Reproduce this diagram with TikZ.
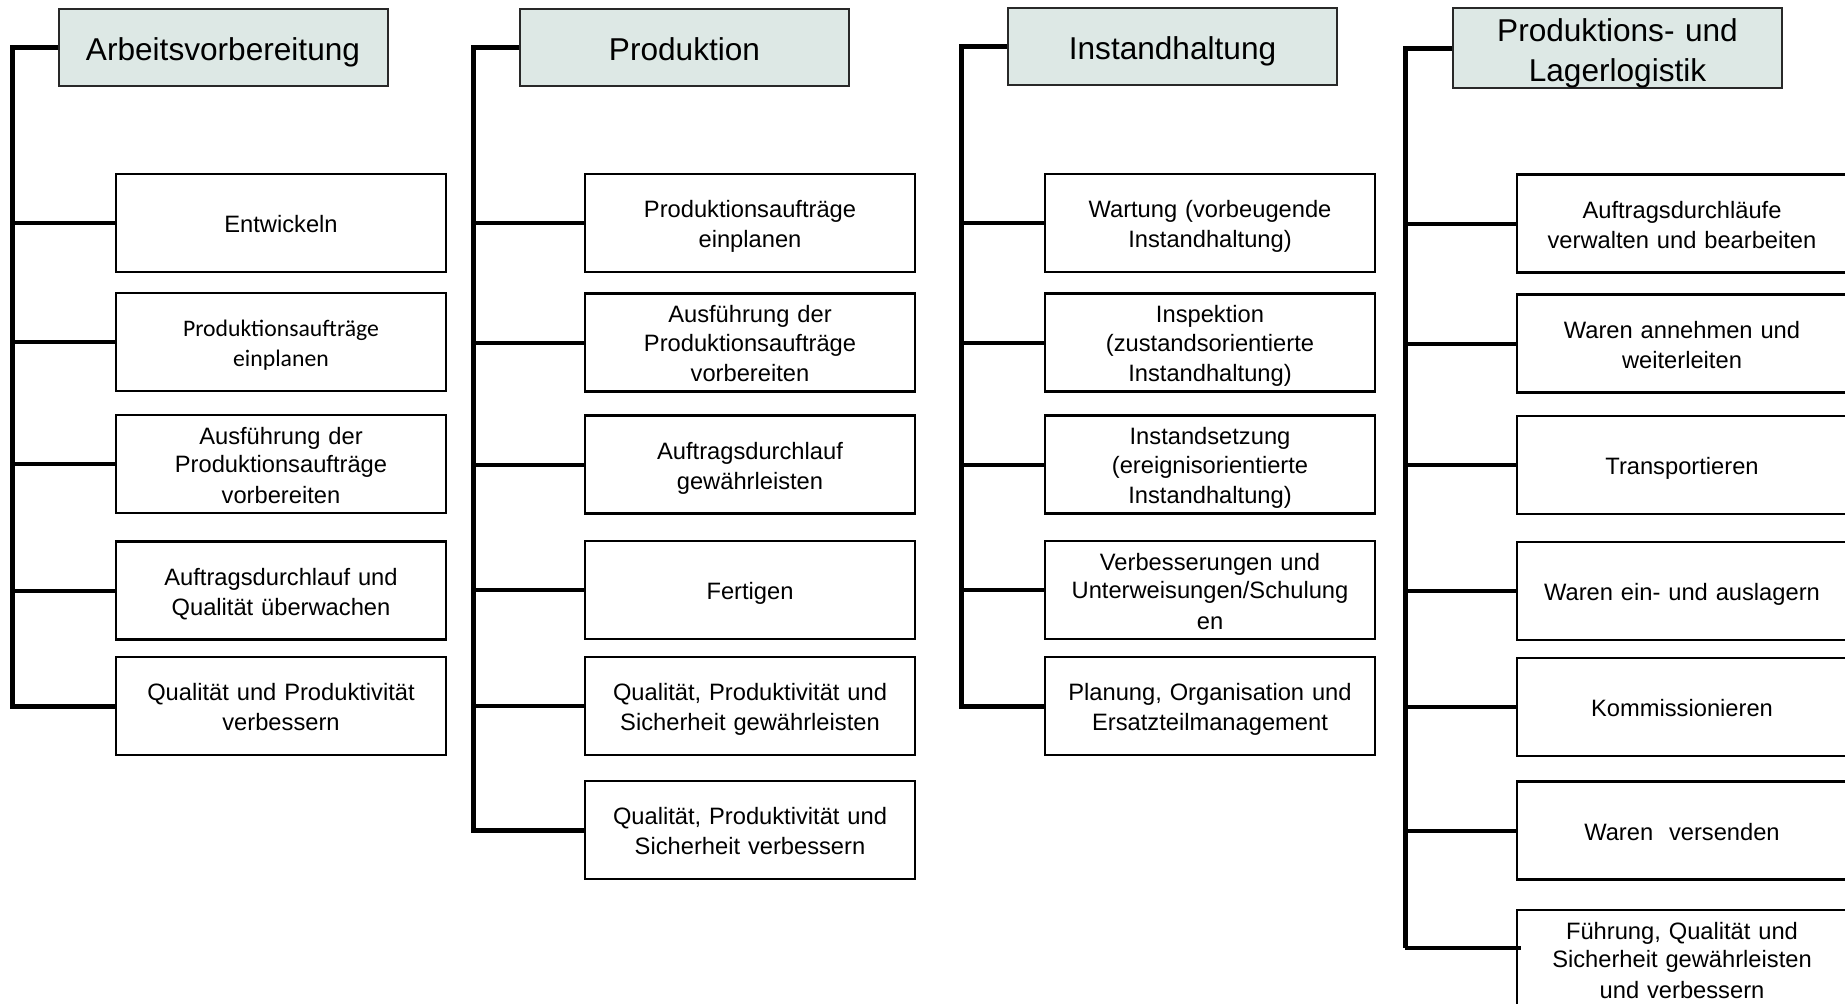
\documentclass[tikz,border=0pt]{standalone}
\usepackage{fontspec}
\setmainfont{Liberation Sans}
\newfontfamily\calibrifont{Carlito}
\usepackage{tikz}
\usetikzlibrary{
  calc,        % coordinate shifts
  positioning  % relative placement
}
\definecolor{headfill}{RGB}{221,232,229}
\definecolor{headline}{RGB}{40,40,40}
% struts: first line height / last line depth
\newcommand\taskstrut{\vrule width 0pt height 24.4pt depth 5pt}
\newcommand\headstrut{\vrule width 0pt height 33pt depth 6pt}
\newcommand\headstrutii{\vrule width 0pt height 27.3pt depth 6pt}
\tikzset{
  head box/.style={
    draw=headline,
    fill=headfill,
    line width=2pt,
    text width=329pt,
    minimum height=77pt,
    inner sep=0pt,
    align=center,
    font=\fontsize{31.6}{37.3}\selectfont,
    execute at begin node={\parindent=0pt\headstrut},
    execute at end node=\headstrut
  },
  task box/.style={
    draw=black,
    fill=white,
    line width=2.5pt,
    text width=330pt,
    minimum height=98pt,
    inner sep=0pt,
    align=center,
    font=\fontsize{23.7}{28.8}\selectfont,
    execute at begin node={\parindent=0pt\taskstrut},
    execute at end node=\taskstrut
  },
  spine/.style={
    draw=black,
    line width=5pt,
    line join=miter
  },
  branch/.style={
    draw=black,
    line width=4pt
  }
}

\begin{document}
\begin{tikzpicture}[x=1pt, y=-1pt]
    \useasboundingbox (0,0) rectangle (1845,1004);

    % 1. Arbeitsvorbereitung
    \node[head box] (AVh) at (223,47) {Arbeitsvorbereitung};
    \node[task box] (AV1) at (281,223) {Entwickeln};
    \node[task box] (AV2) at (281,342) {\calibrifont Produktionsaufträge\\einplanen};
    \node[task box] (AV3) at (281,464) {Ausführung der\\Produktionsaufträge\\vorbereiten};
    \node[task box] (AV4) at (281,590.5) {Auftragsdurchlauf und\\Qualität überwachen};
    \node[task box] (AV5) at (281,706) {Qualität und Produktivität\\verbessern};
    \coordinate (AVtop) at (12,47);
    \draw[spine] (AVh.west) -- (AVtop) |- (AV5.west);
    \foreach \i in {1,...,4}
      \draw[branch] (AVtop |- AV\i.west) -- (AV\i.west);

    % 2. Produktion
    \node[head box] (PRh) at (684.5,47) {Produktion};
    \node[task box] (PR1) at (750,223) {Produktionsaufträge\\einplanen};
    \node[task box] (PR2) at (750,342.5) {Ausführung der\\Produktionsaufträge\\vorbereiten};
    \node[task box] (PR3) at (750,464.5) {Auftragsdurchlauf\\gewährleisten};
    \node[task box] (PR4) at (750,590) {Fertigen};
    \node[task box] (PR5) at (750,706) {Qualität, Produktivität und\\Sicherheit gewährleisten};
    \node[task box] (PR6) at (750,830) {Qualität, Produktivität und\\Sicherheit verbessern};
    \coordinate (PRtop) at (473,47);
    \draw[spine] (PRh.west) -- (PRtop) |- (PR6.west);
    \foreach \i in {1,...,5}
      \draw[branch] (PRtop |- PR\i.west) -- (PR\i.west);

    % 3. Instandhaltung
    \node[head box] (IHh) at (1172.5,46) {Instandhaltung};
    \node[task box] (IH1) at (1210,223) {Wartung (vorbeugende\\Instandhaltung)};
    \node[task box] (IH2) at (1210,342.5) {Inspektion\\(zustandsorientierte\\Instandhaltung)};
    \node[task box] (IH3) at (1210,464.5) {Instandsetzung\\(ereignisorientierte\\Instandhaltung)};
    \node[task box] (IH4) at (1210,590) {Verbesserungen und\\Unterweisungen/Schulung\\en};
    \node[task box] (IH5) at (1210,706) {Planung, Organisation und\\Ersatzteilmanagement};
    \coordinate (IHtop) at (961,46);
    \draw[spine] (IHh.west) -- (IHtop) |- (IH5.west);
    \foreach \i in {1,...,4}
      \draw[branch] (IHtop |- IH\i.west) -- (IH\i.west);

    % 4. Produktions- und Lagerlogistik
    \node[head box, execute at begin node={\parindent=0pt\headstrutii}] (LGh) at (1617.5,48) {Produktions- und\\Lagerlogistik};
    \node[task box] (LG1) at (1682,223.5) {Auftragsdurchläufe\\verwalten und bearbeiten};
    \node[task box] (LG2) at (1682,343.5) {Waren annehmen und\\weiterleiten};
    \node[task box] (LG3) at (1682,465) {Transportieren};
    \node[task box] (LG4) at (1682,591) {Waren ein- und auslagern};
    \node[task box] (LG5) at (1682,707) {Kommissionieren};
    \node[task box] (LG6) at (1682,830.5) {Waren\ \ versenden};
    \node[task box] (LG7) at (1682,959) {Führung, Qualität und\\Sicherheit gewährleisten\\und verbessern};
    \coordinate (LGtop) at (1405,48);
    \coordinate (LGbot) at (1405,948);
    \coordinate (LG7in) at ($(LG7.west)+(5,-11)$);
    \draw[spine] (LGh.west) -- (LGtop) -- (LGbot);
    \foreach \i in {1,...,6}
      \draw[branch] (LGtop |- LG\i.west) -- (LG\i.west);
    \draw[branch] (LGbot) -- (LG7in);

  \end{tikzpicture}
\end{document}
